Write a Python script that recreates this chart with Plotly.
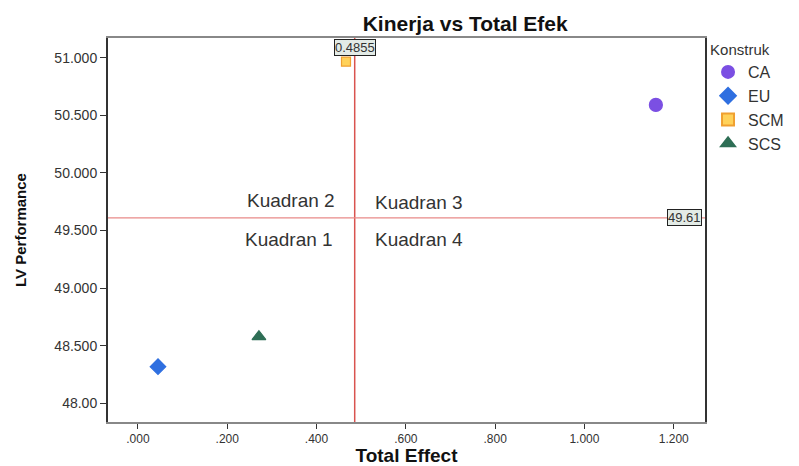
import plotly.graph_objects as go

constructs = ["CA", "EU", "SCM", "SCS"]
total_effect = [1.160, 0.045, 0.466, 0.271]
lv_performance = [50.59, 48.32, 50.965, 48.58]
mean_effect = 0.4855
mean_perf = 49.61

x_tickvals = [0.0, 0.2, 0.4, 0.6, 0.8, 1.0, 1.2]
x_ticktext = [".000", ".200", ".400", ".600", ".800", "1.000", "1.200"]
y_tickvals = [48.0, 48.5, 49.0, 49.5, 50.0, 50.5, 51.0]
y_ticktext = ["48.00", "48.500", "49.000", "49.500", "50.000", "50.500", "51.000"]

symbols = {"CA": "circle", "EU": "diamond", "SCM": "square", "SCS": "triangle-up"}
colors = {"CA": "#7b4fe3", "EU": "#2f6fe0", "SCM": "#ffd25a", "SCS": "#2e6e55"}
lines = {"CA": "#7b4fe3", "EU": "#2f6fe0", "SCM": "#f0a030", "SCS": "#2e6e55"}
sizes = {"CA": 13, "EU": 12, "SCM": 9, "SCS": 12}

fig = go.Figure()
for name, xv, yv in zip(constructs, total_effect, lv_performance):
    fig.add_trace(go.Scatter(
        x=[xv], y=[yv], mode="markers", name=name,
        marker=dict(symbol=symbols[name], color=colors[name], size=sizes[name],
                    line=dict(color=lines[name], width=1.2)),
    ))

font = "Liberation Sans, Arial, sans-serif"
fig.update_layout(
    width=791, height=458,
    paper_bgcolor="white", plot_bgcolor="white",
    margin=dict(l=100, r=94, t=30, b=44, autoexpand=False),
    font=dict(family=font, size=12, color="#222"),
    title=dict(text="<b>Kinerja vs Total Efek</b>", x=0.578, xanchor="center",
               y=0.965, yanchor="middle", font=dict(size=21, color="#111")),
    legend=dict(title=dict(text="Konstruk", font=dict(size=15, color="#333")),
                xref="container", yref="container",
                x=0.885, xanchor="left", y=0.94, yanchor="top",
                font=dict(size=16, color="#333"), tracegroupgap=0,
                itemsizing="constant"),
    xaxis=dict(range=[-0.067, 1.27], tickvals=x_tickvals, ticktext=x_ticktext,
               showgrid=False, zeroline=False, showline=True, linecolor="#888",
               linewidth=2, mirror=True, ticks="outside", ticklen=5, tickcolor="#333",
               tickfont=dict(size=12, color="#333"), automargin=False,
               title=dict(text="<b>Total Effect</b>", font=dict(size=19, color="#111"), standoff=9)),
    yaxis=dict(range=[47.84, 51.17], tickvals=y_tickvals, ticktext=y_ticktext,
               showgrid=False, zeroline=False, showline=True, linecolor="#333",
               linewidth=2, mirror=True, ticks="outside", ticklen=6, tickcolor="#333",
               tickfont=dict(size=14, color="#333"), automargin=False,
               title=dict(text="<b>LV Performance</b>", font=dict(size=15, color="#111"), standoff=24)),
)

fig.add_shape(type="line", xref="x", yref="paper", x0=mean_effect, x1=mean_effect,
              y0=0, y1=1, line=dict(color="#d9534f", width=1.5), layer="below")
fig.add_shape(type="line", xref="paper", yref="y", x0=0, x1=1,
              y0=mean_perf, y1=mean_perf, line=dict(color="#e88a88", width=1.2), layer="below")

fig.add_annotation(x=mean_effect, y=0.974, xref="x", yref="paper", text=f"{mean_effect}",
                   showarrow=False, yanchor="middle", bgcolor="#e3ebe6", bordercolor="#222",
                   borderwidth=1, borderpad=0, font=dict(size=13, color="#333"))
fig.add_annotation(x=0.995, y=mean_perf, xref="paper", yref="y", text=f"{mean_perf}",
                   showarrow=False, xanchor="right", bgcolor="#e3ebe6", bordercolor="#222",
                   borderwidth=1, borderpad=0, font=dict(size=13, color="#333"))

quad = [("Kuadran 2", mean_effect - 0.04, mean_perf + 0.155, "right"),
        ("Kuadran 3", mean_effect + 0.04, mean_perf + 0.13, "left"),
        ("Kuadran 1", mean_effect - 0.045, mean_perf - 0.19, "right"),
        ("Kuadran 4", mean_effect + 0.04, mean_perf - 0.19, "left")]
for txt, qx, qy, anc in quad:
    fig.add_annotation(x=qx, y=qy, xref="x", yref="y", text=txt, showarrow=False,
                       xanchor=anc, font=dict(size=19, color="#333"))

fig.write_html("out.html")
